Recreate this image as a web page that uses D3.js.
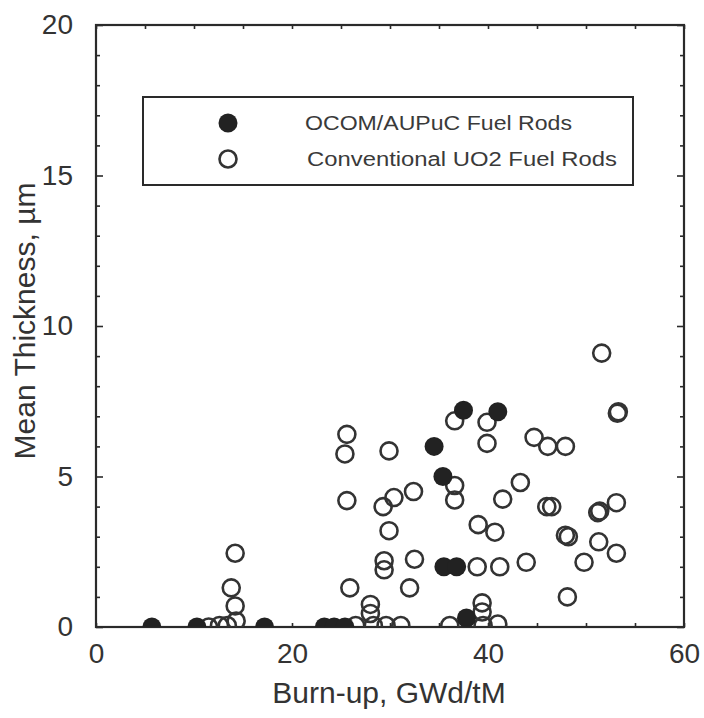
<!DOCTYPE html>
<html>
<head>
<meta charset="utf-8">
<script src="https://cdn.jsdelivr.net/npm/d3@7"></script>
<style>
  body { margin: 0; background: #fff; }
  svg { display: block; font-family: "Liberation Sans", Arial, sans-serif; }
</style>
</head>
<body>
<div class="chart"></div>
<script>
'use strict';
(function() {
  // Data: [burn-up GWd/tM, mean thickness um]
  var ocomRods = [
    [5.7, 0], [10.3, 0], [17.2, 0], [23.3, 0], [24.3, 0], [25.4, 0],
    [34.5, 6.0], [35.4, 5.0], [37.5, 7.2], [41.0, 7.15],
    [35.5, 2.0], [36.8, 2.0], [37.8, 0.3]
  ];
  var uo2Rods = [
    [11.5, 0], [12.6, 0.05], [13.4, 0.05], [14.3, 0.2], [14.2, 0.7], [13.8, 1.3], [14.2, 2.45],
    [25.9, 1.3], [26.5, 0.05], [28.0, 0.75], [28.0, 0.45], [28.3, 0.05], [29.6, 0.05], [31.1, 0.05],
    [25.6, 6.4], [25.4, 5.75], [25.6, 4.2], [29.9, 5.85], [29.3, 4.0], [30.4, 4.3], [32.4, 4.5],
    [29.9, 3.2], [29.4, 2.2], [29.4, 1.9], [32.5, 2.25], [32.0, 1.3],
    [36.1, 0.05], [39.4, 0.8], [39.4, 0.5], [39.5, 0.05], [41.0, 0.1],
    [36.6, 6.85], [39.9, 6.8], [39.9, 6.1], [44.7, 6.3], [46.1, 6.0], [47.9, 6.0],
    [36.6, 4.7], [36.6, 4.22], [43.3, 4.8], [41.5, 4.25], [46.0, 4.0], [46.5, 4.0],
    [51.4, 3.85], [51.2, 3.8], [53.1, 4.13],
    [39.0, 3.4], [40.7, 3.15], [47.9, 3.05], [48.2, 3.0], [51.3, 2.83], [53.1, 2.45], [49.8, 2.15],
    [38.9, 2.0], [41.2, 2.0], [43.9, 2.15], [48.1, 1.0],
    [51.6, 9.1], [53.2, 7.1], [53.3, 7.15]
  ];
  var xTicks = [0, 20, 40, 60];
  var yTicks = [0, 5, 10, 15, 20];
  var legendLabels = ['OCOM/AUPuC Fuel Rods', 'Conventional UO2 Fuel Rods'];

  var w = 704;
  var h = 718;
  var margin = {top: 25, right: 20, bottom: 91, left: 96};
  var pw = 588;
  var ph = 602;
  var ink = '#2a2a2a';

  var x = d3.scaleLinear().domain([0, 60]).range([0, pw]);
  var y = d3.scaleLinear().domain([0, 20]).range([ph, 0]);

  var svg = d3.select('.chart')
    .append('svg')
    .attr('width', w)
    .attr('height', h);

  var g = svg.append('g')
    .attr('transform', 'translate(' + margin.left + ',' + margin.top + ')');

  g.append('clipPath')
    .attr('id', 'plot-clip')
    .append('rect')
    .attr('width', pw)
    .attr('height', ph);

  // x ticks every 5, y ticks every 1, all pointing inward
  var xMinor = d3.range(0, 61, 5);
  var yMinor = d3.range(0, 21, 1);

  var fmtX = function(d) { return xTicks.indexOf(d) >= 0 ? d : ''; };
  var fmtY = function(d) { return yTicks.indexOf(d) >= 0 ? d : ''; };

  var styleAxis = function(sel) {
    sel.select('.domain').remove();
    sel.selectAll('.tick line')
      .attr('stroke', ink)
      .attr('stroke-width', 1.6);
    sel.selectAll('.tick text')
      .attr('fill', '#333')
      .attr('font-size', '28px');
  };

  g.append('g')
    .attr('transform', 'translate(0,' + ph + ')')
    .call(d3.axisBottom(x).tickValues(xMinor).tickSizeInner(-4).tickSizeOuter(0).tickPadding(16).tickFormat(fmtX))
    .call(styleAxis);
  g.append('g')
    .call(d3.axisTop(x).tickValues(xMinor).tickSizeInner(-4).tickSizeOuter(0).tickFormat(''))
    .call(styleAxis);
  g.append('g')
    .attr('class', 'y-left')
    .call(d3.axisLeft(y).tickValues(yMinor).tickSizeInner(-4).tickSizeOuter(0).tickPadding(23).tickFormat(fmtY))
    .call(styleAxis);
  g.append('g')
    .attr('class', 'y-right')
    .attr('transform', 'translate(' + pw + ',0)')
    .call(d3.axisRight(y).tickValues(yMinor).tickSizeInner(-4).tickSizeOuter(0).tickFormat(''))
    .call(styleAxis);

  // longer ticks at the labelled y values
  g.select('.y-left').selectAll('.tick')
    .filter(function(d) { return yTicks.indexOf(d) >= 0; })
    .select('line')
    .attr('x2', 7);
  g.select('.y-right').selectAll('.tick')
    .filter(function(d) { return yTicks.indexOf(d) >= 0; })
    .select('line')
    .attr('x2', -7);

  // frame
  g.append('rect')
    .attr('width', pw)
    .attr('height', ph)
    .attr('fill', 'none')
    .attr('stroke', ink)
    .attr('stroke-width', 2.2);

  var pts = g.append('g').attr('clip-path', 'url(#plot-clip)');

  pts.selectAll('circle.open')
    .data(uo2Rods)
    .enter()
    .append('circle')
    .attr('class', 'open')
    .attr('cx', function(d) { return x(d[0]); })
    .attr('cy', function(d) { return y(d[1]); })
    .attr('r', 8.5)
    .attr('fill', 'none')
    .attr('stroke', '#333')
    .attr('stroke-width', 2.6);

  pts.selectAll('circle.filled')
    .data(ocomRods)
    .enter()
    .append('circle')
    .attr('class', 'filled')
    .attr('cx', function(d) { return x(d[0]); })
    .attr('cy', function(d) { return y(d[1]); })
    .attr('r', 9.5)
    .attr('fill', '#222')
    .attr('stroke', 'none');

  // legend
  var legend = svg.append('g').attr('transform', 'translate(143,97)');
  legend.append('rect')
    .attr('width', 490)
    .attr('height', 88)
    .attr('fill', '#fff')
    .attr('stroke', ink)
    .attr('stroke-width', 2);
  legend.append('circle')
    .attr('cx', 85).attr('cy', 26).attr('r', 9.5)
    .attr('fill', '#222');
  legend.append('circle')
    .attr('cx', 85).attr('cy', 62).attr('r', 8.5)
    .attr('fill', 'none').attr('stroke', '#333').attr('stroke-width', 2.6);
  var lengths = [267, 310];
  legend.selectAll('text')
    .data(legendLabels)
    .enter()
    .append('text')
    .attr('x', function(d, i) { return i === 0 ? 162 : 164; })
    .attr('y', function(d, i) { return 33 + i * 36; })
    .attr('font-size', '20px')
    .attr('fill', '#3a3a3a')
    .attr('textLength', function(d, i) { return lengths[i]; })
    .attr('lengthAdjust', 'spacingAndGlyphs')
    .text(function(d) { return d; });

  // axis titles
  svg.append('text')
    .attr('x', 389)
    .attr('y', 703)
    .attr('text-anchor', 'middle')
    .attr('font-size', '30px')
    .attr('fill', '#333')
    .text('Burn-up, GWd/tM');

  svg.append('text')
    .attr('transform', 'translate(35,321) rotate(-90)')
    .attr('text-anchor', 'middle')
    .attr('font-size', '30px')
    .attr('fill', '#333')
    .text('Mean Thickness, \u00b5m');
})();
</script>
</body>
</html>
